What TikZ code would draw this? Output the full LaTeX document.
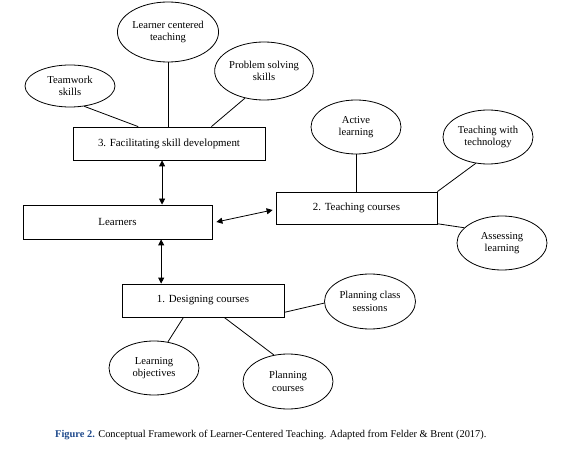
\documentclass[tikz,border=0pt]{standalone}
\usepackage{fontspec}
\setmainfont{Liberation Serif}
\usetikzlibrary{shapes.geometric,arrows.meta,calc}
\definecolor{capblue}{HTML}{1F4A8C}
\begin{document}
\begin{tikzpicture}[x=1pt,y=-1pt,
  boxn/.style={draw,line width=0.8pt,rectangle,inner sep=0pt,font=\fontsize{10.9}{12}\selectfont},
  ell/.style={draw,line width=0.8pt,ellipse,inner sep=0pt,align=center,font=\fontsize{10.6}{12.4}\selectfont},
  conn/.style={line width=0.8pt},
  arr/.style={line width=0.8pt,{Triangle[width=6pt,length=6pt]}-{Triangle[width=6pt,length=6pt]}}
]
\useasboundingbox (0,0) rectangle (565,449);
% boxes
\node[boxn,minimum width=192pt,minimum height=33pt] (B3) at (169,143.5) {3. Facilitating skill development};
\node[boxn,minimum width=189pt,minimum height=34pt] (L) at (117.5,222) {Learners};
\node[boxn,minimum width=161pt,minimum height=32pt] (T) at (356.5,208) {2. Teaching courses};
\node[boxn,minimum width=162pt,minimum height=33pt] (B1) at (203,300.5) {1. Designing courses};
% ellipses
\node[ell,minimum width=90pt,minimum height=42pt] (TW) at (70,86) {Teamwork\\skills};
\node[ell,minimum width=90pt,minimum height=60pt] (LC) at (168,32) {Learner centered\\teaching};
\node[ell,minimum width=88pt,minimum height=58pt] (PS) at (264,71) {Problem solving\\skills};
\node[ell,minimum width=90pt,minimum height=54pt] (AL) at (356,127) {Active\\learning};
\node[ell,minimum width=90pt,minimum height=54pt] (TT) at (488,137) {Teaching with\\technology};
\node[ell,minimum width=90pt,minimum height=54pt] (AS) at (502,243) {Assessing\\learning};
\node[ell,minimum width=91pt,minimum height=55pt] (PC) at (370,301.5) {Planning class\\sessions};
\node[ell,minimum width=90pt,minimum height=54pt] (LO) at (154,368) {Learning\\objectives};
\node[ell,minimum width=90pt,minimum height=55pt] (PL) at (288,381.5) {Planning\\courses};
% connectors
\draw[conn] (TW.-55) -- ($(B3.north west)!0.34!(B3.north east)$);
\draw[conn] (LC.south) -- (LC.south |- B3.north);
\draw[conn] (PS.-125) -- ($(B3.north west)!0.72!(B3.north east)$);
\draw[conn] (AL.south) -- (AL.south |- T.north);
\draw[conn] (T.north east) -- (TT.-115);
\draw[conn] ($(T.north east)!0.98!(T.south east)$) -- (AS.158);
\draw[conn] ($(B1.north east)!0.85!(B1.south east)$) -- (PC.182);
\draw[conn] ($(B1.south west)!0.38!(B1.south east)$) -- (LO.62);
\draw[conn] ($(B1.south west)!0.63!(B1.south east)$) -- (PL.118);
% arrows
\coordinate (a1) at ($(B3.south west)!0.464!(B3.south east)$);
\draw[arr] (a1) -- (a1 |- L.north);
\coordinate (a2) at ($(L.south west)!0.73!(L.south east)$);
\draw[arr] (a2) -- (a2 |- B1.north);
\draw[arr] ($(L.east)+(4,0)$) -- ($(T.west)+(-3,2)$);
% caption
\node[anchor=west,inner sep=0pt,font=\fontsize{10.4}{12}\selectfont] (cap) at (55,435) {\textcolor{capblue}{\textbf{Figure 2.}} Conceptual Framework of Learner-Centered Teaching. Adapted from Felder \& Brent (2017).};
\end{tikzpicture}
\end{document}
